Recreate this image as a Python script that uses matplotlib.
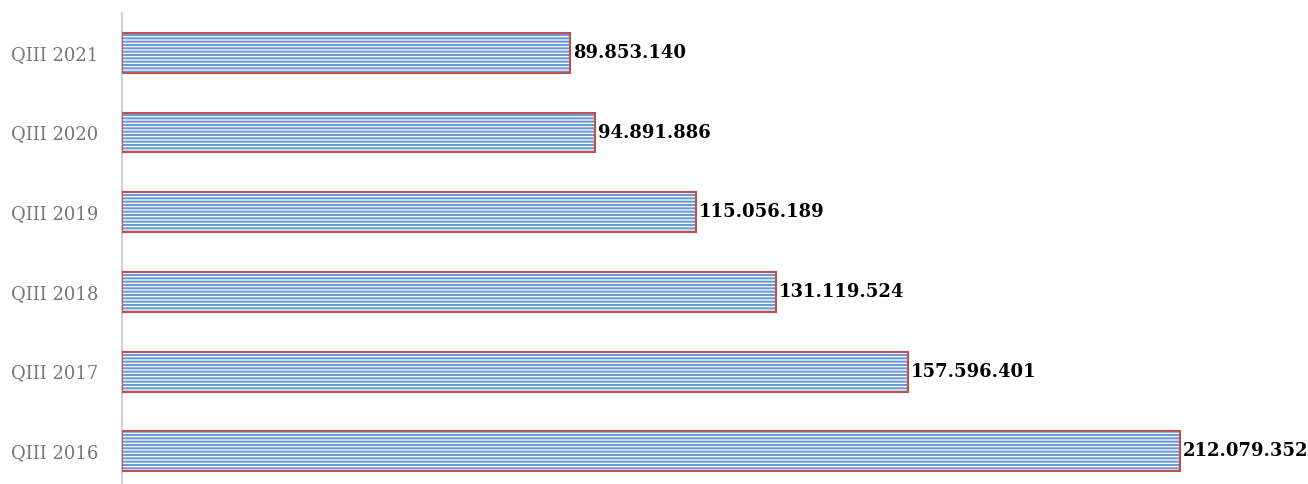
import numpy as np
import matplotlib.pyplot as plt

plt.rcParams['hatch.linewidth'] = 1.5

# Datos
periodos = ['QIII 2016', 'QIII 2017', 'QIII 2018', 'QIII 2019', 'QIII 2020', 'QIII 2021']
valores = [212079352, 157596401, 131119524, 115056189, 94891886, 89853140]
etiquetas = ['212.079.352', '157.596.401', '131.119.524', '115.056.189', '94.891.886', '89.853.140']

W, H = 1308, 484
fig = plt.figure(figsize=(W / 100, H / 100), dpi=100)
ax = fig.add_axes([122 / W, 0, 1 - 122 / W, (H - 13) / H])

y = np.arange(len(periodos))
azul = '#6a9ad8'
rojo = '#c0504d'

# Relleno con rayas horizontales
ax.barh(y, valores, height=0.5, color='white', edgecolor=azul,
        hatch='-----', linewidth=0, zorder=2)
# Borde rojo
ax.barh(y, valores, height=0.5, fill=False, edgecolor=rojo,
        linewidth=1.5, zorder=3)

for yi, v, lab in zip(y, valores, etiquetas):
    ax.text(v + 0.5e6, yi, lab, va='center', ha='left', fontsize=13,
            fontweight='bold', family='DejaVu Serif', color='black')

ax.set_xlim(0, 212079352 * (W - 122) / (1180 - 122))
ax.set_ylim(-0.41, 5.5)
ax.set_yticks(y)
ax.set_yticklabels(periodos, family='DejaVu Serif', fontsize=13, color='#777777')
ax.tick_params(axis='y', length=0, pad=17)
ax.set_xticks([])
for s in ['top', 'right', 'bottom']:
    ax.spines[s].set_visible(False)
ax.spines['left'].set_color('#d0d0d0')
ax.spines['left'].set_linewidth(1.5)

plt.savefig('out.png', dpi=100)
